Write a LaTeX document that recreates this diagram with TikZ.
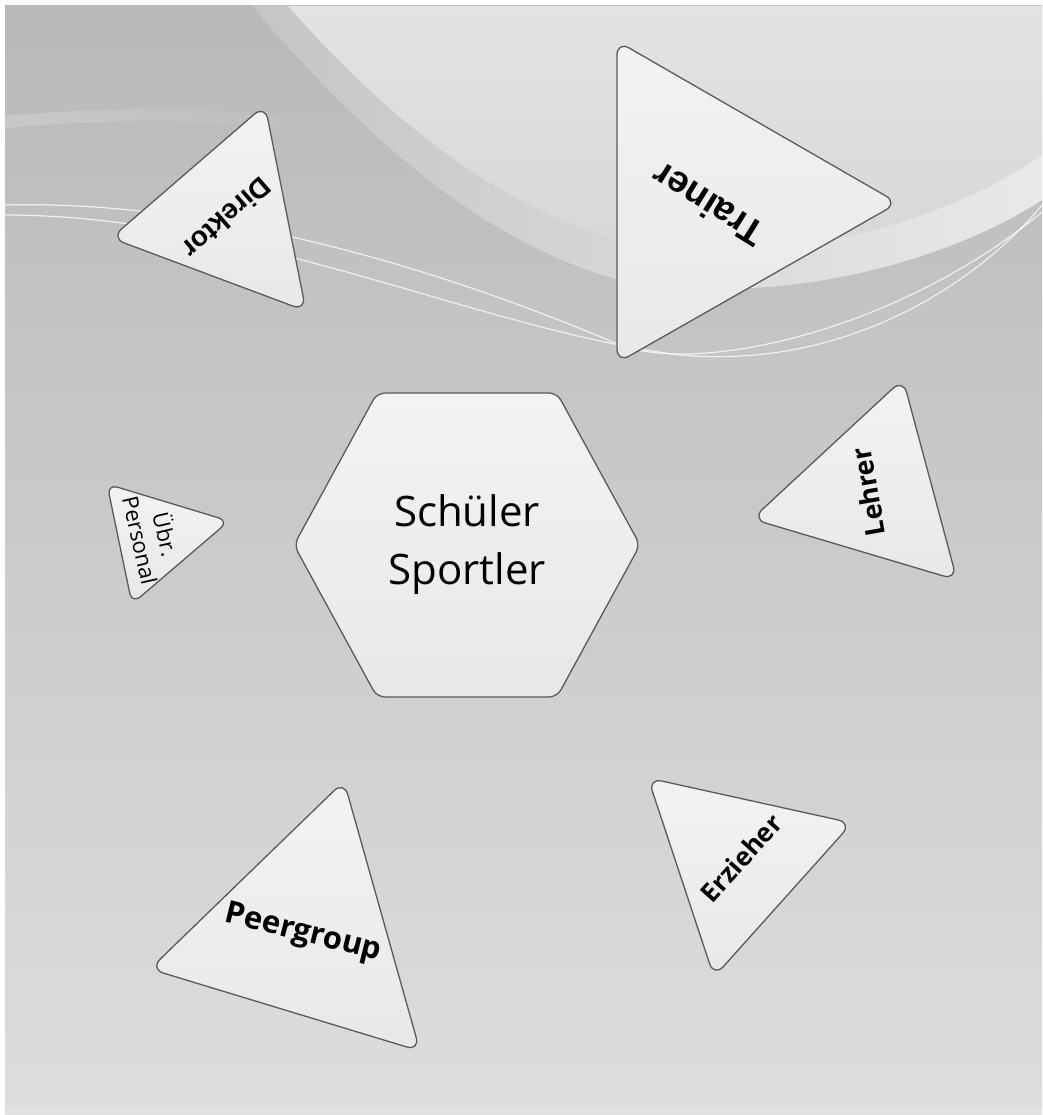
\documentclass[tikz,border=0pt]{standalone}
\usepackage{fontspec}
\setmainfont{Open Sans}
\newfontfamily\arialfont{Liberation Sans}
\usetikzlibrary{fadings}

\definecolor{bgtop}{HTML}{B9B9B9}
\definecolor{bgbottom}{HTML}{DDDDDD}
\definecolor{bgstrip}{HTML}{E2E2E2}
\definecolor{waveleft}{HTML}{C5C5C5}
\definecolor{waveglow}{HTML}{E6E6E6}
\definecolor{waveright}{HTML}{E9E9E9}
\definecolor{wavetop}{HTML}{E3E3E3}
\definecolor{wavebottom}{HTML}{D6D6D6}
\definecolor{tileline}{HTML}{5A5A5A}
\definecolor{tiletop}{HTML}{F3F3F3}
\definecolor{tilebottom}{HTML}{E8E8E8}

\tikzset{
  tile/.style={draw=tileline, line width=1.3pt, rounded corners=14pt,
    top color=tiletop, bottom color=tilebottom},
  thinwave/.style={white, opacity=.75, line width=1.2pt},
  role/.style={text=black, inner sep=0pt, align=center}
}

\begin{document}
\begin{tikzpicture}[x=1pt,y=-1pt]
\useasboundingbox (0,0) rectangle (1042,1115);
\fill[white] (0,0) rectangle (1042,1115);

% background with the wave
\shade[top color=bgtop, bottom color=bgbottom] (5,6) rectangle (1042,1108);
\fill[bgstrip] (5,1108) rectangle (1042,1115);
\draw[white, opacity=.18, line width=12pt, path fading=east] (5,122) .. controls (120,112) and (220,112) .. (330,128);
\shade[left color=waveleft, middle color=waveglow, right color=waveright]
  (252,6) .. controls (345,115) and (470,240) .. (620,280)
  .. controls (780,310) and (950,260) .. (1042,200) -- (1042,6) -- cycle;
\shade[top color=wavetop, bottom color=wavebottom]
  (288,6) .. controls (380,110) and (500,215) .. (640,245)
  .. controls (780,270) and (950,220) .. (1042,155) -- (1042,6) -- cycle;
\draw[thinwave] (5,205) .. controls (200,200) and (420,260) .. (620,345)
  .. controls (700,375) and (900,330) .. (1042,212);
\draw[thinwave] (5,215) .. controls (250,215) and (480,330) .. (680,355)
  .. controls (850,370) and (980,280) .. (1042,205);

% tiles
\draw[tile] (265,105) -- (111,238) -- (306,311) -- cycle;
\draw[tile] (617,41) -- (617,363) -- (898,203) -- cycle;
\draw[tile, rounded corners=11pt] (107,484) -- (229,521) -- (132,604) -- cycle;
\draw[tile] (903,379) -- (752,519) -- (957,580) -- cycle;
\draw[tile] (344,781) -- (150,969) -- (420,1051) -- cycle;
\draw[tile] (648,778) -- (852,823) -- (714,977) -- cycle;
\draw[tile, rounded corners=8pt] (377,393) -- (557,393) -- (640,545) -- (557,697)
  -- (377,697) -- (294,545) -- cycle;

% labels
\node[role, font=\arialfont\bfseries\fontsize{28}{28}\selectfont, rotate=221] (direktor) at (227,218) {Direktor};
\node[role, font=\arialfont\bfseries\fontsize{37}{37}\selectfont, rotate=148] (trainer) at (708,205) {Trainer};
\node[role, font=\fontsize{22}{26}\selectfont, rotate=-77] (personal) at (154,537) {Übr.\\Personal};
\node[role, font=\bfseries\fontsize{27}{27}\selectfont, rotate=100] (lehrer) at (868,492) {Lehrer};
\node[role, font=\bfseries\fontsize{31}{31}\selectfont, rotate=-14] (peergroup) at (303,934) {Peergroup};
\node[role, font=\bfseries\fontsize{26}{26}\selectfont, rotate=48] (erzieher) at (741,858) {Erzieher};
\node[role, font=\fontsize{42}{58}\selectfont] (schueler) at (467,545) {Schüler\\Sportler};
\end{tikzpicture}
\end{document}
